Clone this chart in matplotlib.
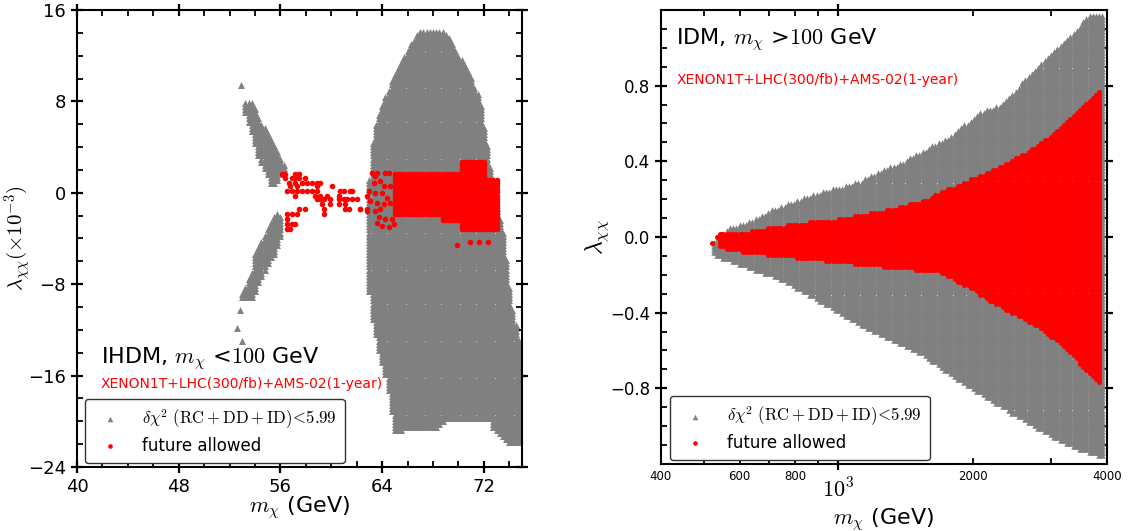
import numpy as np
import matplotlib
matplotlib.use('Agg')
import matplotlib.pyplot as plt
from matplotlib.path import Path
from matplotlib.ticker import FixedLocator, FixedFormatter

plt.rcParams['mathtext.fontset'] = 'cm'
plt.rcParams['font.family'] = 'DejaVu Sans'

GRAY = '#808080'
RED = '#ff0000'

# ---------------- IHDM (left) : region outlines ----------------
# upper arm of the funnel
arm_up_x = [53.0, 53.4, 53.9, 54.2, 54.6, 55.0, 55.2, 55.6, 56.0, 56.4, 56.0, 55.2, 54.4, 53.8]
arm_up_y = [8.0, 6.4, 4.9, 3.2, 2.3, 1.4, 0.8, 0.8, 1.4, 2.3, 3.2, 4.9, 6.4, 7.9]
# lower arm of the funnel
arm_lo_x = [55.8, 56.2, 56.0, 55.6, 55.0, 54.3, 53.8, 52.8, 53.4, 53.9, 54.0, 54.6, 55.4]
arm_lo_y = [-1.6, -2.3, -3.8, -5.2, -6.4, -7.8, -9.3, -9.3, -7.8, -6.4, -5.2, -3.8, -2.3]
# big resonance blob
blob_x = [66.8, 65.2, 64.1, 63.3, 63.1, 62.9, 62.9, 63.0, 63.3, 63.9, 64.5, 64.9, 65.0,
          68.3, 69.0, 72.5, 72.8, 73.9, 75.3, 75.3, 74.6, 74.1, 73.5, 72.9, 72.3, 71.7,
          70.8, 69.0, 68.7]
blob_y = [14.1, 11.0, 8.1, 5.3, 2.3, 0.0, -5.8, -8.7, -11.6, -14.5, -17.3, -20.3, -20.8,
          -20.6, -19.9, -19.9, -20.8, -21.9, -21.9, -15.3, -12.1, -9.3, -3.4, -0.6, 3.8,
          8.1, 10.7, 14.0, 14.1]
# isolated grey points
ihdm_gray_x = [52.9, 52.8, 52.6, 53.0]
ihdm_gray_y = [9.4, -10.3, -11.8, -13.0]

# future-allowed main block
red_blk_x = [64.9, 70.15, 70.15, 72.25, 72.25, 73.04, 73.04, 70.15, 70.15, 68.6, 68.6, 64.9]
red_blk_y = [1.9, 1.9, 2.77, 2.77, 1.17, 1.17, -3.47, -3.47, -2.6, -2.6, -2.0, -2.0]
# scattered future-allowed points
red_pts_x = [56.12, 56.38, 57.17, 57.43,
             56.38, 56.90, 57.17, 57.43, 57.95,
             56.64, 57.17, 57.69, 58.08, 58.48, 58.87, 59.13,
             56.77, 57.30, 58.87, 60.05,
             56.51, 56.90, 57.30, 57.69, 58.08, 58.48, 58.87, 60.71, 60.97, 61.50, 61.63,
             57.17, 58.74, 59.13, 59.66, 60.58, 62.81,
             58.87, 59.13, 59.40, 59.92, 60.58, 60.97, 61.23, 61.63, 62.02,
             59.27, 59.92, 60.58, 61.10,
             57.43, 57.95, 59.40, 61.10, 61.36, 62.28, 62.81,
             56.51, 56.90, 57.30, 59.40,
             56.51,
             56.51, 56.90, 57.17,
             56.51, 56.77,
             63.20, 63.46, 63.59, 64.25, 64.51,
             63.33, 63.85, 64.12, 64.64,
             62.94, 63.46, 63.99, 64.38,
             63.07, 63.59, 64.12, 64.64,
             62.28, 62.80, 63.46, 63.85,
             63.72, 64.25, 64.77,
             63.59, 63.99, 64.51, 64.90,
             69.9, 70.9, 71.6, 72.3]
red_pts_y = [1.61] * 4 + [1.32] * 5 + [0.88] * 7 + [0.60] * 4 + [0.16] * 11 + \
            [-0.27] * 6 + [-0.56] * 9 + [-1.0] * 4 + [-1.43] * 7 + [-1.87] * 4 + \
            [-2.30] + [-2.74] * 3 + [-3.17] * 2 + \
            [1.75, 1.46, 1.75, 1.75, 1.75] + [0.88, 1.03, 0.59, 0.59] + \
            [0.16, 0.01, 0.01, -0.42] + [-0.71, -0.86, -1.0, -0.86] + \
            [-1.44, -1.58, -1.58, -1.44] + [-2.16, -2.31, -2.31] + \
            [-2.60, -2.89, -3.03, -2.74] + [-4.6, -4.3, -4.3, -4.3]

# ---------------- IDM (right) : region outlines ----------------
idm_up_x = [520, 571, 657, 713, 863, 1117, 1374, 1778, 2076, 2302, 2829, 3253, 3664, 3920]
idm_up_y = [-0.03, 0.05, 0.10, 0.15, 0.22, 0.30, 0.39, 0.53, 0.66, 0.70, 0.91, 1.04, 1.18, 1.18]
idm_lo_x = [520, 574, 657, 732, 881, 1106, 1546, 1863, 2255, 2715, 3271, 3920]
idm_lo_y = [-0.085, -0.13, -0.18, -0.22, -0.32, -0.455, -0.62, -0.76, -0.88, -0.99, -1.10, -1.16]
idm_red_up_x = [540, 624, 791, 1024, 1305, 1580, 1689, 2003, 2388, 2830, 3188, 3533, 3900]
idm_red_up_y = [0.016, 0.03, 0.07, 0.10, 0.15, 0.20, 0.24, 0.31, 0.39, 0.49, 0.60, 0.70, 0.79]
idm_red_lo_x = [540, 624, 791, 1008, 1689, 2003, 2388, 2830, 3250, 3533, 3900]
idm_red_lo_y = [-0.06, -0.085, -0.11, -0.137, -0.19, -0.285, -0.39, -0.48, -0.60, -0.69, -0.80]
idm_red_tip_x = [520, 535, 549]
idm_red_tip_y = [-0.03, 0.0, 0.016]


def scan_inside(gx, gy, px, py):
    """points of the scan grid (gx, gy) that fall inside outline (px, py)"""
    X, Y = np.meshgrid(gx, gy)
    pts = np.column_stack([X.ravel(), Y.ravel()])
    keep = Path(np.column_stack([px, py])).contains_points(pts)
    return pts[keep, 0], pts[keep, 1]


def style_ax(ax):
    for s in ax.spines.values():
        s.set_linewidth(1.5)
    ax.tick_params(which='major', direction='inout', length=9, width=1.6,
                   top=True, right=True, labelsize=12)
    ax.tick_params(which='minor', direction='in', length=4, width=1.3,
                   top=True, right=True)


S_TRI, S_DOT = 25, 16

fig = plt.figure(figsize=(11.29, 5.31), dpi=100)
ax1 = fig.add_axes([77 / 1129, (531 - 467) / 531, 445 / 1129, 457 / 531])
ax2 = fig.add_axes([661 / 1129, (531 - 464) / 531, 446 / 1129, 454 / 531])

# ---- left panel
gx = np.arange(52.5, 75.6, 0.25)
gy = np.arange(-24.0, 16.0, 0.27)
gray_x, gray_y = [], []
for px, py in [(arm_up_x, arm_up_y), (arm_lo_x, arm_lo_y), (blob_x, blob_y)]:
    a, b = scan_inside(gx, gy, px, py)
    gray_x.append(a); gray_y.append(b)
gray_x = np.concatenate(gray_x + [ihdm_gray_x])
gray_y = np.concatenate(gray_y + [ihdm_gray_y])
rx, ry = scan_inside(gx, gy, red_blk_x, red_blk_y)
rx = np.concatenate([rx, red_pts_x]); ry = np.concatenate([ry, red_pts_y])

ax1.scatter(gray_x, gray_y, marker='^', s=S_TRI, color=GRAY, linewidths=0, zorder=2)
ax1.scatter(rx, ry, marker='o', s=S_DOT, color=RED, linewidths=0, zorder=3)
ax1.set_xlim(40, 75)
ax1.set_ylim(-24, 16)
ax1.set_xticks([40, 48, 56, 64, 72])
ax1.set_xticks(np.arange(40, 75, 2), minor=True)
ax1.set_yticks([-24, -16, -8, 0, 8, 16])
ax1.set_yticks(np.arange(-24, 16, 2), minor=True)
style_ax(ax1)
ax1.tick_params(which='major', labelsize=13)
ax1.set_xlabel(r'$m_\chi$ (GeV)', fontsize=16)
ax1.xaxis.set_label_coords(0.5, -0.06)
ax1.set_ylabel(r'$\lambda_{\chi\chi}(\times10^{-3})$', fontsize=15)
ax1.yaxis.set_label_coords(-0.098, 0.5)
ax1.text(0.055, 0.237, r'IHDM, $m_\chi$ <$100$ GeV', transform=ax1.transAxes,
         fontsize=16, va='center')
ax1.text(0.052, 0.182, 'XENON1T+LHC(300/fb)+AMS-02(1-year)', transform=ax1.transAxes,
         fontsize=10, color=RED, va='center')

# ---- right panel
lx = np.arange(np.log10(500), np.log10(4000), 0.0072)
ly = np.arange(-1.2, 1.2, 0.016)
g_px = np.log10(idm_up_x + idm_lo_x[::-1])
g_py = idm_up_y + idm_lo_y[::-1]
a, b = scan_inside(lx, ly, g_px, g_py)
r_px = np.log10(idm_red_up_x + idm_red_lo_x[::-1])
r_py = idm_red_up_y + idm_red_lo_y[::-1]
c, d = scan_inside(lx, ly, r_px, r_py)
ax2.scatter(10 ** a, b, marker='^', s=S_TRI - 3, color=GRAY, linewidths=0, zorder=2)
ax2.scatter(np.concatenate([10 ** c, idm_red_tip_x]), np.concatenate([d, idm_red_tip_y]),
            marker='o', s=S_DOT - 3, color=RED, linewidths=0, zorder=3)
ax2.set_xscale('log')
ax2.set_xlim(400, 4000)
ax2.set_ylim(-1.2, 1.2)
ax2.xaxis.set_major_locator(FixedLocator([1000]))
ax2.xaxis.set_major_formatter(FixedFormatter([r'$10^3$']))
minor_pos = [400, 500, 600, 700, 800, 900, 2000, 3000, 4000]
minor_lab = ['400', '', '600', '', '800', '', '2000', '', '4000']
ax2.xaxis.set_minor_locator(FixedLocator(minor_pos))
ax2.xaxis.set_minor_formatter(FixedFormatter(minor_lab))
ax2.set_yticks([-0.8, -0.4, 0.0, 0.4, 0.8])
ax2.set_yticks(np.arange(-1.1, 1.2, 0.1), minor=True)
style_ax(ax2)
ax2.tick_params(axis='x', which='major', labelsize=16, pad=5)
ax2.tick_params(axis='x', which='minor', labelsize=8.5, pad=4)
ax2.tick_params(axis='y', which='major', labelsize=12)
ax2.set_xlabel(r'$m_\chi$ (GeV)', fontsize=16)
ax2.xaxis.set_label_coords(0.5, -0.092)
ax2.set_ylabel(r'$\lambda_{\chi\chi}$', fontsize=17)
ax2.yaxis.set_label_coords(-0.112, 0.5)
ax2.text(0.034, 0.934, r'IDM, $m_\chi$ >$100$ GeV', transform=ax2.transAxes,
         fontsize=16, va='center')
ax2.text(0.034, 0.846, 'XENON1T+LHC(300/fb)+AMS-02(1-year)', transform=ax2.transAxes,
         fontsize=10, color=RED, va='center')

# legends
for ax, anchor in [(ax1, (0.018, 0.009)), (ax2, (0.02, 0.009))]:
    h1 = ax.scatter([], [], marker='^', s=16, color=GRAY, linewidths=0)
    h2 = ax.scatter([], [], marker='o', s=11, color=RED, linewidths=0)
    leg = ax.legend([h1, h2],
                    [r'$\delta\chi^2\ (\mathrm{RC+DD+ID})\!<\!5.99$', 'future allowed'],
                    loc='lower left', bbox_to_anchor=anchor, borderaxespad=0,
                    fontsize=12, handletextpad=0.9, borderpad=0.5, labelspacing=0.35,
                    fancybox=True, framealpha=1, edgecolor='#333333')
    leg.get_frame().set_linewidth(1.0)

fig.savefig('out.png', dpi=100)
